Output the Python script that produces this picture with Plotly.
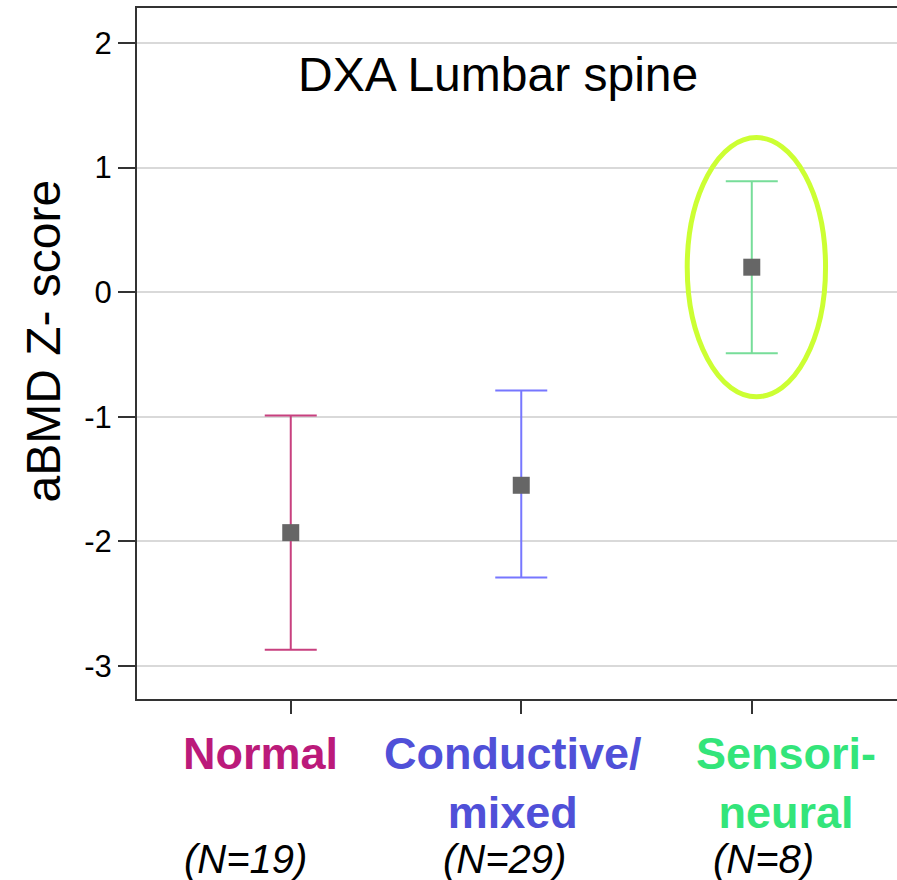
import plotly.graph_objects as go

categories = ["Normal", "Conductive/<br>mixed", "Sensori-<br>neural"]
n_labels = ["(N=19)", "(N=29)", "(N=8)"]
means = [-1.93, -1.55, 0.20]
upper = [-0.99, -0.79, 0.89]
lower = [-2.87, -2.29, -0.49]
bar_colors = ["#c8407f", "#7777ff", "#77dd99"]
label_colors = ["#bb1a7a", "#5050d8", "#33e57a"]
y_ticks = [-3, -2, -1, 0, 1, 2]
y_tick_text = ["-3", "-2", "-1", "0", "1", "2"]
title_text = "DXA Lumbar spine"
y_title = "aBMD Z- score"

FONT = "Arial, Liberation Sans, sans-serif"

fig = go.Figure()
for i in range(len(categories)):
    fig.add_trace(go.Scatter(
        x=[i], y=[means[i]], mode="markers",
        marker=dict(symbol="square", size=17, color="#666666", line=dict(width=0)),
        error_y=dict(type="data", symmetric=False,
                     array=[upper[i] - means[i]], arrayminus=[means[i] - lower[i]],
                     color=bar_colors[i], thickness=2, width=26),
        showlegend=False, hoverinfo="skip"))

# highlight ellipse around the Sensori-neural group
fig.add_shape(type="circle", xref="x", yref="y",
              x0=2 + 0.02 - 0.30, x1=2 + 0.02 + 0.30,
              y0=means[2] - 1.04, y1=means[2] + 1.04,
              line=dict(color="#ccff33", width=5), layer="above")

fig.update_xaxes(range=[-0.667, 2.63], tickmode="array", tickvals=[0, 1, 2],
                 showticklabels=False, ticks="outside", ticklen=13, tickwidth=2,
                 tickcolor="#333333", showline=True, linecolor="#333333", linewidth=2,
                 mirror=True, showgrid=False, zeroline=False)
fig.update_yaxes(range=[-3.265, 2.28], tickmode="array", tickvals=y_ticks,
                 ticktext=y_tick_text,
                 ticks="outside", ticklen=17, tickwidth=2, tickcolor="#333333",
                 showline=True, linecolor="#333333", linewidth=2,
                 showgrid=True, gridcolor="#d9d9d9", gridwidth=2, zeroline=False,
                 tickfont=dict(family=FONT, size=31, color="black"))

ann = []
ann.append(dict(text=title_text, xref="x", yref="paper", x=0.9, y=1, xanchor="center",
                yanchor="middle", yshift=-66, showarrow=False,
                font=dict(family=FONT, size=48, color="black")))
ann.append(dict(text=y_title, xref="paper", yref="paper", x=0, y=0.5, textangle=-90,
                xanchor="center", yanchor="middle", xshift=-94, yshift=12, showarrow=False,
                font=dict(family=FONT, size=48, color="black")))
label_shift = [-30, -8, 34]
n_shift = [-45, -17, 12]
for i in range(len(categories)):
    ann.append(dict(text="<b>%s</b>" % categories[i], xref="x", yref="paper", x=i, y=0,
                    xanchor="center", yanchor="top", xshift=label_shift[i], yshift=-27,
                    showarrow=False, font=dict(family=FONT, size=45, color=label_colors[i])))
    ann.append(dict(text="<i>%s</i>" % n_labels[i], xref="x", yref="paper", x=i, y=0,
                    xanchor="center", yanchor="middle", xshift=n_shift[i], yshift=-160,
                    showarrow=False, font=dict(family=FONT, size=40, color="black")))

fig.update_layout(width=897, height=880, margin=dict(l=137, r=0, t=8, b=181),
                  paper_bgcolor="white", plot_bgcolor="white", annotations=ann)
fig.write_html("out.html")
